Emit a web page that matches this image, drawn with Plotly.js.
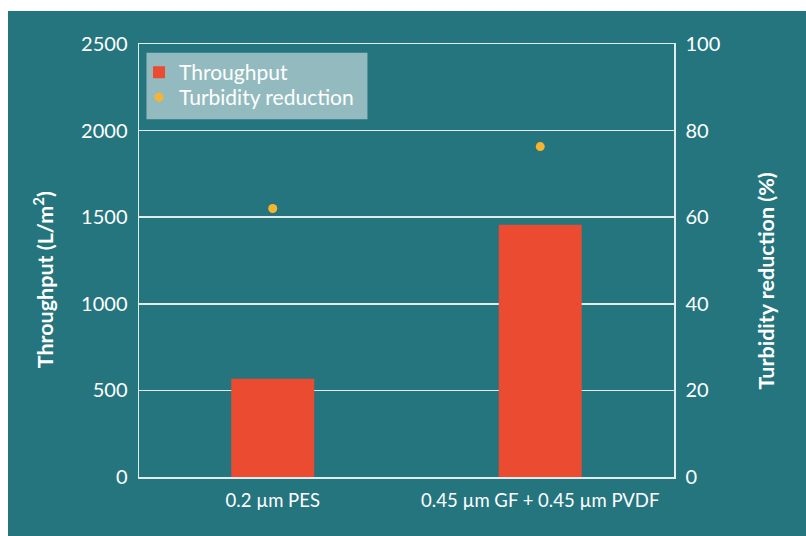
<!DOCTYPE html>
<html>
<head>
<meta charset="utf-8">
<script src="https://cdn.plot.ly/plotly-3.0.1.min.js"></script>
<style>
  html, body { margin: 0; padding: 0; background: #ffffff; }
  #chart { position: absolute; left: 8px; top: 11px; width: 798px; height: 525px; }
</style>
</head>
<body>
<div id="chart"></div>
<script>
// Filter trains compared on throughput and turbidity reduction
const categories = ["0.2 \u00b5m PES", "0.45 \u00b5m GF + 0.45 \u00b5m PVDF"];
const throughput = [567, 1457];           // L/m²
const turbidityReduction = [62, 76.3];    // %
const leftTitle = "<b>Throughput (L/m<sup>2</sup>)</b>";
const rightTitle = "<b>Turbidity reduction (%)</b>";

const teal = "#25757f";
const gridCol = "#e3ecec";
const font = "Lato, 'Open Sans', sans-serif";

const traces = [
  {
    type: "bar",
    name: "Throughput",
    x: categories,
    y: throughput,
    width: 0.31,
    marker: { color: "#eb4c31" },
    yaxis: "y",
    legend: "legend"
  },
  {
    type: "scatter",
    mode: "markers",
    name: "Turbidity reduction",
    x: categories,
    y: turbidityReduction,
    marker: { color: "#f7b52f", size: 9 },
    yaxis: "y2",
    legend: "legend2"
  }
];

const titleFont = { family: font, size: 21.5, color: "#ffffff" };
const legendFont = { family: font, size: 21, color: "#ffffff" };

const layout = {
  width: 798,
  height: 525,
  paper_bgcolor: teal,
  plot_bgcolor: teal,
  margin: { l: 130.5, r: 132.3, t: 33.3, b: 58.7 },
  font: { family: font, color: "#ffffff", size: 18 },
  showlegend: true,
  // shared panel behind the two legend rows
  shapes: [
    {
      type: "rect", xref: "paper", yref: "paper", layer: "above",
      x0: 0.014, x1: 0.427, y0: 0.826, y1: 0.98,
      fillcolor: "#93bbbf", line: { width: 0 }
    }
  ],
  // axis titles, set slightly below the vertical centre of the plot
  annotations: [
    {
      text: leftTitle, xref: "paper", yref: "paper", x: -0.177, y: 0.455,
      xanchor: "center", yanchor: "middle", textangle: -90, showarrow: false, font: titleFont
    },
    {
      text: rightTitle, xref: "paper", yref: "paper", x: 1.1725, y: 0.452,
      xanchor: "center", yanchor: "middle", textangle: -90, showarrow: false, font: titleFont
    }
  ],
  legend: {
    x: 0.0, y: 0.934, xanchor: "left", yanchor: "middle",
    bgcolor: "rgba(0,0,0,0)", font: legendFont, itemwidth: 30
  },
  legend2: {
    x: 0.0, y: 0.8765, xanchor: "left", yanchor: "middle",
    bgcolor: "rgba(0,0,0,0)", font: legendFont, itemwidth: 30
  },
  xaxis: {
    type: "category",
    range: [-0.5, 1.5],
    showgrid: false,
    showline: true,
    mirror: true,
    linecolor: gridCol,
    linewidth: 1.5,
    ticks: "",
    ticklabelstandoff: 6,
    tickfont: { family: font, size: 18.5, color: "#ffffff" },
    fixedrange: true
  },
  yaxis: {
    range: [0, 2500],
    tickvals: [0, 500, 1000, 1500, 2000, 2500],
    showgrid: true,
    gridcolor: gridCol,
    gridwidth: 1.5,
    zeroline: false,
    showline: true,
    linecolor: gridCol,
    linewidth: 1.5,
    ticks: "",
    ticklabelstandoff: 6,
    tickfont: { family: font, size: 20, color: "#ffffff" }
  },
  yaxis2: {
    overlaying: "y",
    side: "right",
    range: [0, 100],
    tickvals: [0, 20, 40, 60, 80, 100],
    showgrid: false,
    zeroline: false,
    showline: true,
    linecolor: gridCol,
    linewidth: 1.5,
    ticks: "",
    ticklabelstandoff: 6,
    tickfont: { family: font, size: 20, color: "#ffffff" }
  }
};

Plotly.newPlot("chart", traces, layout, { displayModeBar: false, staticPlot: true });
</script>
</body>
</html>
